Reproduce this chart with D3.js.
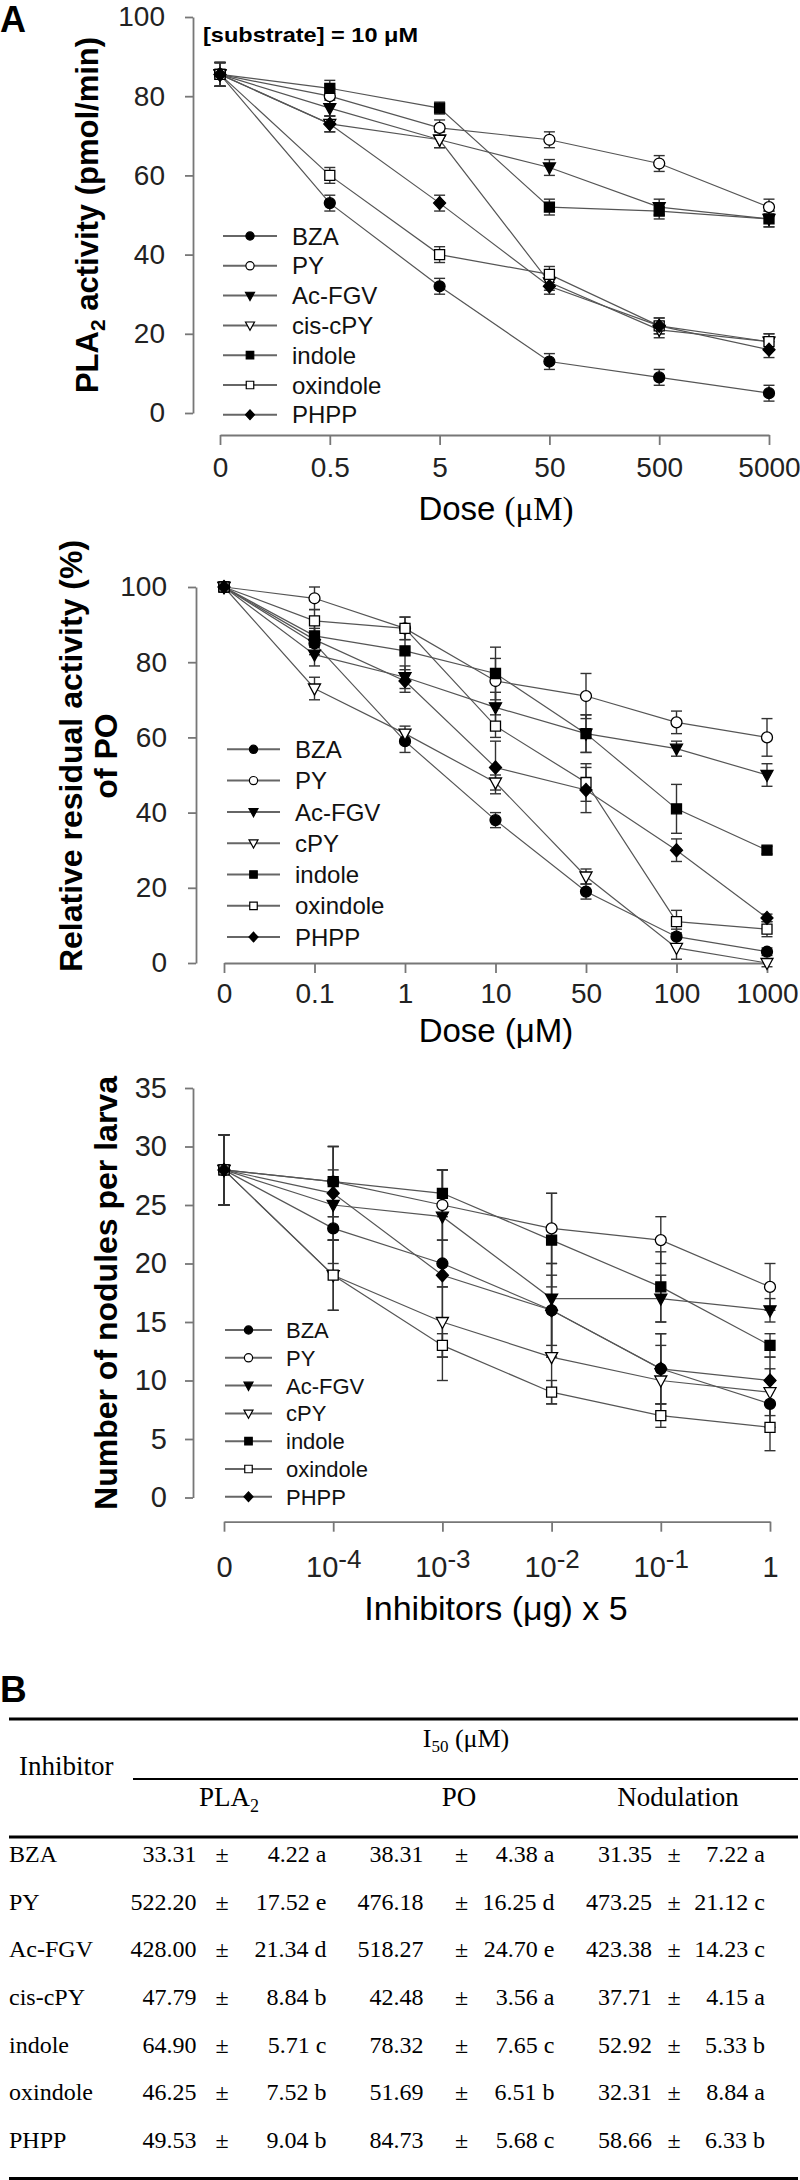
<!DOCTYPE html>
<html><head><meta charset="utf-8">
<script src="https://cdn.jsdelivr.net/npm/d3@7"></script>
<style>body{margin:0;background:#fff} svg{display:block}</style>
</head><body><svg id="c" width="800" height="2180"></svg>
<script>
// ---------- shared series info ----------
const seriesPLA = ["BZA","PY","Ac-FGV","cis-cPY","indole","oxindole","PHPP"];
const seriesPO  = ["BZA","PY","Ac-FGV","cPY","indole","oxindole","PHPP"];
const markerShapes = ["circle","circle","triangleDown","triangleDown","square","square","diamond"];
const markerFilled = [true,false,true,false,true,false,true];

// ---------- Panel 1: PLA2 activity ----------
const plaDoses = ["0","0.5","5","50","500","5000"];
const plaBZA      = [85.5,53,32,13,9,5];
const plaPY       = [85.5,80,72,69,63,52];
const plaAcFGV    = [85.5,77,69,62,52,49];
const plaCisCPY   = [85.5,73,69,33,21,18];
const plaIndole   = [85.5,82,77,52,51,49];
const plaOxindole = [85.5,60,40,35,22,18];
const plaPHPP     = [85.5,73,53,32,22,16];
const plaErrBZA      = [3,2,2,2,2,2];
const plaErrPY       = [3,2,2,2,2,2];
const plaErrAcFGV    = [3,2,2,2,2,2];
const plaErrCisCPY   = [3,2,2,2,2,2];
const plaErrIndole   = [3,2,1.5,2,2,2];
const plaErrOxindole = [3,2,2,2,2,2];
const plaErrPHPP     = [3,2,2,2,2,2];
const plaYTicks = [0,20,40,60,80,100];

// ---------- Panel 2: PO activity ----------
const poDoses = ["0","0.1","1","10","50","100","1000"];
const poBZA      = [100,85,59,38,19,7,3];
const poPY       = [100,97,89,75,71,64,60];
const poAcFGV    = [100,82,76,68,61,57,50];
const poCPY      = [100,73,61,48,23,4,0];
const poIndole   = [100,87,83,77,61,41,30];
const poOxindole = [100,91,89,63,48,11,9];
const poPHPP     = [100,86,75,52,46,30,12];
const poErrBZA      = [1,3,3,2,2,2,1];
const poErrPY       = [1,3,3,6,6,3,5];
const poErrAcFGV    = [1,3,3,4,5,2,3];
const poErrCPY      = [1,3,2,2,2,3,1];
const poErrIndole   = [1,3,6,7,5,6.5,1];
const poErrOxindole = [1,3,3,3,5,3,2];
const poErrPHPP     = [1,3,3,7,6,3,1];
const poYTicks = [0,20,40,60,80,100];

// ---------- Panel 3: nodulation ----------
const nodDoses = ["0","1e-4","1e-3","1e-2","1e-1","1"];
const nodTickBase = ["0","10","10","10","10","1"];
const nodTickExp  = ["","-4","-3","-2","-1",""];
const nodBZA      = [28,23,20,16,11,8];
const nodPY       = [28,27,25,23,22,18];
const nodAcFGV    = [28,25,24,17,17,16];
const nodCPY      = [28,19,15,12,10,9];
const nodIndole   = [28,27,26,22,18,13];
const nodOxindole = [28,19,13,9,7,6];
const nodPHPP     = [28,26,19,16,11,10];
const nodErrBZA      = [3,3,2,4,3,2];
const nodErrPY       = [3,3,3,3,2,2];
const nodErrAcFGV    = [3,3,4,5,2,1];
const nodErrCPY      = [3,3,3,4,3,2];
const nodErrIndole   = [3,3,2,4,3,1];
const nodErrOxindole = [3,3,1,1,1,2];
const nodErrPHPP     = [3,4,9,3,3,2];
const nodYTicks = [0,5,10,15,20,25,30,35];

// ---------- Table B ----------
const tblNames = ["BZA","PY","Ac-FGV","cis-cPY","indole","oxindole","PHPP"];
const pla2Mean = [33.31,522.20,428.00,47.79,64.90,46.25,49.53];
const pla2SE   = [4.22,17.52,21.34,8.84,5.71,7.52,9.04];
const pla2Grp  = ["a","e","d","b","c","b","b"];
const poMean   = [38.31,476.18,518.27,42.48,78.32,51.69,84.73];
const poSE     = [4.38,16.25,24.70,3.56,7.65,6.51,5.68];
const poGrp    = ["a","d","e","a","c","b","c"];
const nodMean  = [31.35,473.25,423.38,37.71,52.92,32.31,58.66];
const nodSE    = [7.22,21.12,14.23,4.15,5.33,8.84,6.33];
const nodGrp   = ["a","c","c","a","b","a","b"];

// ================= drawing =================
const SANS = "'Liberation Sans', Arial, sans-serif";
const SERIF = "'Liberation Serif', 'Times New Roman', serif";
const svg = d3.select("#c");
svg.append("rect").attr("width",800).attr("height",2180).attr("fill","#fff");

function shapePath(shape, k){
  switch(shape){
    case "circle": return d3.symbol(d3.symbolCircle, Math.PI*30*k*k)();
    case "square": { const h=5*k; return `M${-h},${-h}H${h}V${h}H${-h}Z`; }
    case "triangleDown": { const w=6*k; return `M${-w},${-4.5*k}H${w}L0,${6.5*k}Z`; }
    case "diamond": { const h=6.5*k, w=6*k; return `M0,${-h}L${w},0L0,${h}L${-w},0Z`; }
  }
}

function drawPanel(p){
  const g = svg.append("g");
  const x = d3.scalePoint().domain(p.categories).range(p.xRange);
  const y = d3.scaleLinear().domain(p.yDomain).range(p.yRange);

  const ya = g.append("g").attr("transform",`translate(${p.yAxisX},0)`)
    .call(d3.axisLeft(y).tickValues(p.yTicks).tickSize(8).tickSizeOuter(0).tickPadding(p.yPad));
  const xa = g.append("g").attr("transform",`translate(0,${p.xAxisY})`)
    .call(d3.axisBottom(x).tickSize(10).tickSizeOuter(0));
  [ya,xa].forEach(a=>{
    a.attr("font-family",SANS).attr("font-size",p.tickFont);
    a.selectAll("path,line").attr("stroke","#777").attr("stroke-width",1.8);
    a.selectAll("text").attr("fill","#222");
  });
  xa.selectAll(".tick text").attr("dy",null).attr("y",p.xLabelOffset);
  if(p.tickFormatter) xa.selectAll(".tick text").each(function(d,i){ p.tickFormatter(d3.select(this), i); });

  // lines
  const line = d3.line().x((d,i)=>x(p.categories[i])).y(d=>y(d));
  const sg = g.append("g");
  p.values.forEach((vals,si)=>{
    sg.append("path").datum(vals).attr("d",line)
      .attr("fill","none").attr("stroke","#555").attr("stroke-width",1.2);
  });
  // error bars
  const eg = g.append("g").attr("stroke","#333").attr("stroke-width",1.4);
  p.values.forEach((vals,si)=>{
    vals.forEach((v,i)=>{
      const e = p.errors[si][i], cx = x(p.categories[i]);
      const y1 = y(v+e), y2 = y(Math.max(p.yDomain[0]-1, v-e));
      eg.append("line").attr("x1",cx).attr("x2",cx).attr("y1",y1).attr("y2",y2);
      eg.append("line").attr("x1",cx-5.5).attr("x2",cx+5.5).attr("y1",y1).attr("y2",y1);
      eg.append("line").attr("x1",cx-5.5).attr("x2",cx+5.5).attr("y1",y2).attr("y2",y2);
    });
  });
  // markers
  const mg = g.append("g");
  p.values.forEach((vals,si)=>{
    mg.selectAll(null).data(vals).join("path")
      .attr("transform",(d,i)=>`translate(${x(p.categories[i])},${y(d)})`)
      .attr("d",shapePath(markerShapes[si],1))
      .attr("fill",markerFilled[si]?"#000":"#fff").attr("stroke","#000").attr("stroke-width",1.3);
  });
  // legend
  const lg = g.append("g");
  p.legendNames.forEach((name,si)=>{
    const ly = p.legend.y0 + si*p.legend.dy;
    lg.append("line").attr("x1",p.legend.x1).attr("x2",p.legend.x2).attr("y1",ly).attr("y2",ly)
      .attr("stroke","#666").attr("stroke-width",2);
    lg.append("path").attr("transform",`translate(${(p.legend.x1+p.legend.x2)/2},${ly})`)
      .attr("d",shapePath(markerShapes[si],0.75))
      .attr("fill",markerFilled[si]?"#000":"#fff").attr("stroke","#000").attr("stroke-width",1.2);
    lg.append("text").attr("x",p.legend.tx).attr("y",ly+p.legend.font*0.36)
      .attr("font-family",SANS).attr("font-size",p.legend.font).attr("fill","#111").text(name);
  });
  return g;
}

// ---- Panel A (PLA2) ----
drawPanel({
  categories: plaDoses, xRange:[220,769], yDomain:[0,100], yRange:[413,17],
  yTicks: plaYTicks, yAxisX:193, yPad:20, xAxisY:435, xLabelOffset:42, tickFont:28,
  values:[plaBZA,plaPY,plaAcFGV,plaCisCPY,plaIndole,plaOxindole,plaPHPP],
  errors:[plaErrBZA,plaErrPY,plaErrAcFGV,plaErrCisCPY,plaErrIndole,plaErrOxindole,plaErrPHPP],
  legendNames: seriesPLA, legend:{x1:223,x2:277,tx:292,y0:236,dy:29.8,font:24}
});
svg.append("text").attr("x",0).attr("y",32).attr("font-family",SANS).attr("font-weight","bold")
  .attr("font-size",36).text("A");
svg.append("text").attr("x",203).attr("y",42).attr("font-family",SANS).attr("font-weight","bold")
  .attr("font-size",21).attr("textLength",215).attr("lengthAdjust","spacingAndGlyphs")
  .text("[substrate] = 10 \u03bcM");
{
  const t = svg.append("text").attr("transform","translate(98,215) rotate(-90)")
    .attr("text-anchor","middle").attr("font-family",SANS).attr("font-weight","bold").attr("font-size",31);
  t.append("tspan").text("PLA");
  t.append("tspan").attr("font-size",21).attr("dy",7).text("2");
  t.append("tspan").attr("dy",-7).text(" activity (pmol/min)");
}
{
  const t = svg.append("text").attr("x",496).attr("y",520).attr("text-anchor","middle")
    .attr("font-family",SANS).attr("font-size",33);
  t.append("tspan").text("Dose ");
  t.append("tspan").attr("font-family",SERIF).text("(\u03bcM)");
}

// ---- Panel PO ----
drawPanel({
  categories: poDoses, xRange:[224,767], yDomain:[0,100], yRange:[963,587],
  yTicks: poYTicks, yAxisX:196, yPad:21, xAxisY:963, xLabelOffset:40, tickFont:28,
  values:[poBZA,poPY,poAcFGV,poCPY,poIndole,poOxindole,poPHPP],
  errors:[poErrBZA,poErrPY,poErrAcFGV,poErrCPY,poErrIndole,poErrOxindole,poErrPHPP],
  legendNames: seriesPO, legend:{x1:227,x2:280,tx:295,y0:749.3,dy:31.3,font:24}
});
svg.append("text").attr("transform","translate(82,756) rotate(-90)").attr("text-anchor","middle")
  .attr("font-family",SANS).attr("font-weight","bold").attr("font-size",32)
  .text("Relative residual activity (%)");
svg.append("text").attr("transform","translate(117,756) rotate(-90)").attr("text-anchor","middle")
  .attr("font-family",SANS).attr("font-weight","bold").attr("font-size",32).text("of PO");
svg.append("text").attr("x",496).attr("y",1042).attr("text-anchor","middle")
  .attr("font-family",SANS).attr("font-size",33).text("Dose (\u03bcM)");

// ---- Panel nodulation ----
drawPanel({
  categories: nodDoses, xRange:[224,770], yDomain:[0,35], yRange:[1497.5,1088],
  yTicks: nodYTicks, yAxisX:193, yPad:18, xAxisY:1521.7, xLabelOffset:55, tickFont:29,
  values:[nodBZA,nodPY,nodAcFGV,nodCPY,nodIndole,nodOxindole,nodPHPP],
  errors:[nodErrBZA,nodErrPY,nodErrAcFGV,nodErrCPY,nodErrIndole,nodErrOxindole,nodErrPHPP],
  legendNames: seriesPO, legend:{x1:225,x2:272,tx:286,y0:1330,dy:27.8,font:22},
  tickFormatter:(sel,i)=>{
    sel.text(null);
    sel.append("tspan").text(nodTickBase[i]);
    if(nodTickExp[i]) sel.append("tspan").attr("font-size",26).attr("dy",-9).text(nodTickExp[i]);
  }
});
svg.append("text").attr("transform","translate(117,1293) rotate(-90)").attr("text-anchor","middle")
  .attr("font-family",SANS).attr("font-weight","bold").attr("font-size",32)
  .text("Number of nodules per larva");
svg.append("text").attr("x",496).attr("y",1620).attr("text-anchor","middle")
  .attr("font-family",SANS).attr("font-size",34).text("Inhibitors (\u03bcg) x 5");

// ---- Table B ----
svg.append("text").attr("x",0).attr("y",1702).attr("font-family",SANS).attr("font-weight","bold")
  .attr("font-size",37).text("B");
const tb = svg.append("g").attr("font-family",SERIF).attr("fill","#000");
[[9,1719,3],[133,1779,2],[9,1837,3],[9,2178.5,3]].forEach(([x1,yy,w])=>{
  tb.append("line").attr("x1",x1).attr("x2",798).attr("y1",yy).attr("y2",yy)
    .attr("stroke","#000").attr("stroke-width",w);
});
{
  const t = tb.append("text").attr("x",466).attr("y",1747).attr("text-anchor","middle").attr("font-size",26);
  t.append("tspan").text("I");
  t.append("tspan").attr("font-size",17).attr("dy",5).text("50");
  t.append("tspan").attr("dy",-5).text(" (\u03bcM)");
}
tb.append("text").attr("x",19).attr("y",1775).attr("font-size",27).text("Inhibitor");
{
  const t = tb.append("text").attr("x",229).attr("y",1806).attr("text-anchor","middle").attr("font-size",27);
  t.append("tspan").text("PLA");
  t.append("tspan").attr("font-size",18).attr("dy",6).text("2");
}
tb.append("text").attr("x",459).attr("y",1806).attr("text-anchor","middle").attr("font-size",27).text("PO");
tb.append("text").attr("x",678).attr("y",1806).attr("text-anchor","middle").attr("font-size",27).text("Nodulation");

const f2 = d3.format(".2f");
const rowY = d3.scalePoint().domain(tblNames).range([1862,2148]);
const cols = [
  {mean:pla2Mean, se:pla2SE, grp:pla2Grp, mx:196.5, pm:222, sx:326.5},
  {mean:poMean,   se:poSE,   grp:poGrp,   mx:423.5, pm:461.5, sx:554.5},
  {mean:nodMean,  se:nodSE,  grp:nodGrp,  mx:652,   pm:674, sx:765}
];
const rows = tb.selectAll("g.row").data(tblNames).join("g").attr("class","row")
  .attr("transform",d=>`translate(0,${rowY(d)})`).attr("font-size",24);
rows.append("text").attr("x",9).text(d=>d);
cols.forEach(c=>{
  rows.append("text").attr("x",c.mx).attr("text-anchor","end").text((d,i)=>f2(c.mean[i]));
  rows.append("text").attr("x",c.pm).attr("text-anchor","middle").text("\u00b1");
  rows.append("text").attr("x",c.sx).attr("text-anchor","end").text((d,i)=>f2(c.se[i])+" "+c.grp[i]);
});
</script></body></html>
